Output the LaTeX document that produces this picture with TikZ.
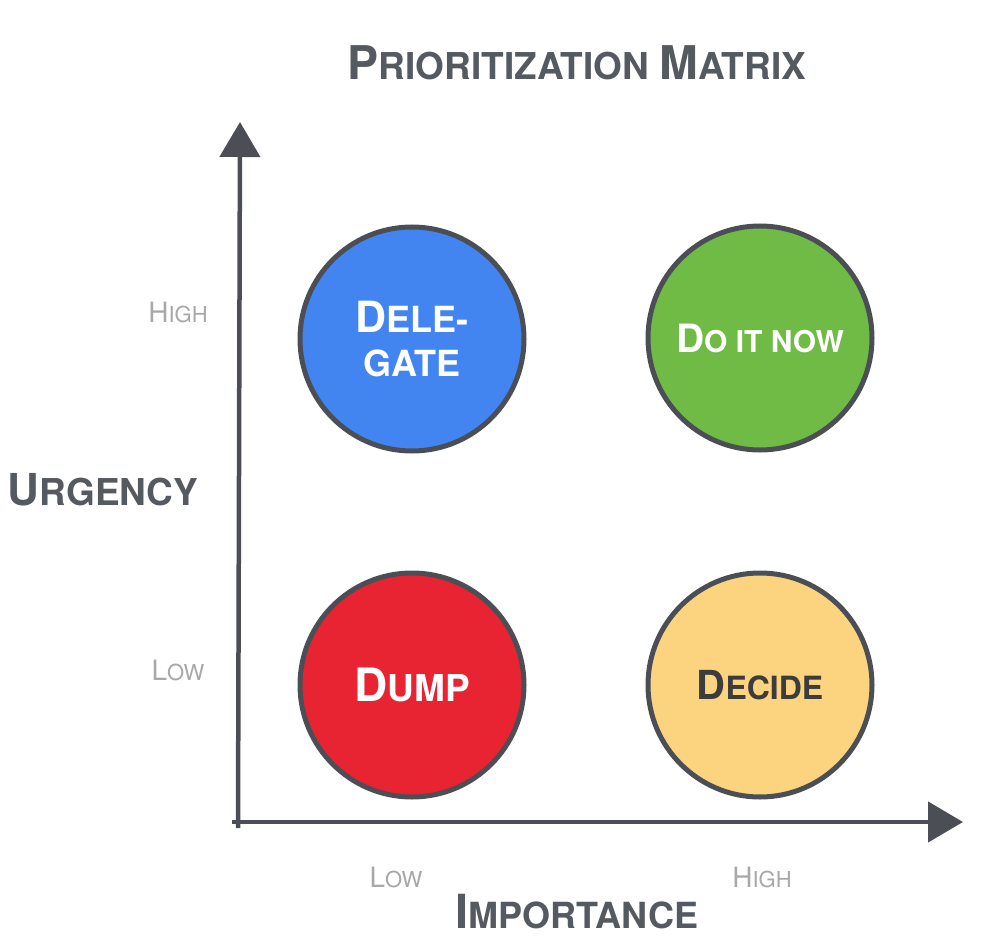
\documentclass[tikz,border=0pt]{standalone}
\usepackage{fontspec}
\setmainfont{TeX Gyre Heros}
\usetikzlibrary{arrows.meta}
\usepackage{xcolor}
\definecolor{inkgray}{HTML}{4B4F55}
\definecolor{titlegray}{HTML}{555960}
\definecolor{levelgray}{HTML}{A8A8A8}
\definecolor{delegblue}{HTML}{4385F0}
\definecolor{nowgreen}{HTML}{70BB46}
\definecolor{dumpred}{HTML}{E92432}
\definecolor{decideyellow}{HTML}{FCD480}
\definecolor{decidetext}{HTML}{3C3C3C}
% fake small caps: big size, small size, first letter, rest
\newcommand{\smcap}[4]{{\fontsize{#1}{#1}\selectfont #3}{\fontsize{#2}{#2}\selectfont #4}}
\tikzset{%
	quad/.style={
		circle,
		draw=inkgray,
		line width=5pt,
		minimum size=224pt,
		inner sep=0pt,
		font=\bfseries,
		align=center
	},
	axislabel/.style={
		anchor=base,
		text=titlegray,
		font=\bfseries
	},
	level/.style={
		anchor=base,
		text=levelgray
	},
	axis/.style={
		draw=inkgray,
		line width=4.5pt,
		-{Triangle[length=35pt,width=40pt]}
	}
}
\begin{document}
\begin{tikzpicture}[x=1pt,y=-1pt]
	\useasboundingbox (0,0) rectangle (996,944);
	
	% Title
	\node[axislabel] (title) at (577,80) {\smcap{46.5pt}{37pt}{P}{RIORITIZATION }\smcap{46.5pt}{37pt}{M}{ATRIX}};
	
	% Axes
	\coordinate (origin) at (238,828);
	\coordinate (utip) at (240,122);
	\coordinate (xstart) at (232,822);
	\coordinate (itip) at (963,822);
	\draw[axis] (origin) -- (utip);
	\draw[axis] (xstart) -- (itip);
	
	% Axis names
	\node[axislabel] (urgency) at (103,505) {\smcap{44pt}{37pt}{U}{RGENCY}};
	\node[axislabel] (importance) at (577,928) {\smcap{47pt}{36pt}{I}{MPORTANCE}};
	
	% Levels
	\node[level] (uhigh) at (178,322) {\smcap{28pt}{22pt}{H}{IGH}};
	\node[level] (ulow) at (178,680) {\smcap{28pt}{22pt}{L}{OW}};
	\node[level] (ilow) at (396,887) {\smcap{28pt}{22pt}{L}{OW}};
	\node[level] (ihigh) at (762,887) {\smcap{28pt}{22pt}{H}{IGH}};
	
	% Quadrants
	\node[quad, fill=delegblue, text=white] (delegate) at (412,339)
		{\smcap{43pt}{36pt}{D}{ELE-}\\[16pt]\smcap{36pt}{36pt}{}{GATE}};
	\node[quad, fill=nowgreen, text=white] (donow) at (760,338)
		{\smcap{39pt}{30pt}{D}{O IT NOW}};
	\node[quad, fill=dumpred, text=white] (dump) at (412,685)
		{\smcap{46pt}{37pt}{D}{UMP}};
	\node[quad, fill=decideyellow, text=decidetext] (decide) at (760,685)
		{\smcap{40pt}{32pt}{D}{ECIDE}};
	
\end{tikzpicture}
\end{document}
